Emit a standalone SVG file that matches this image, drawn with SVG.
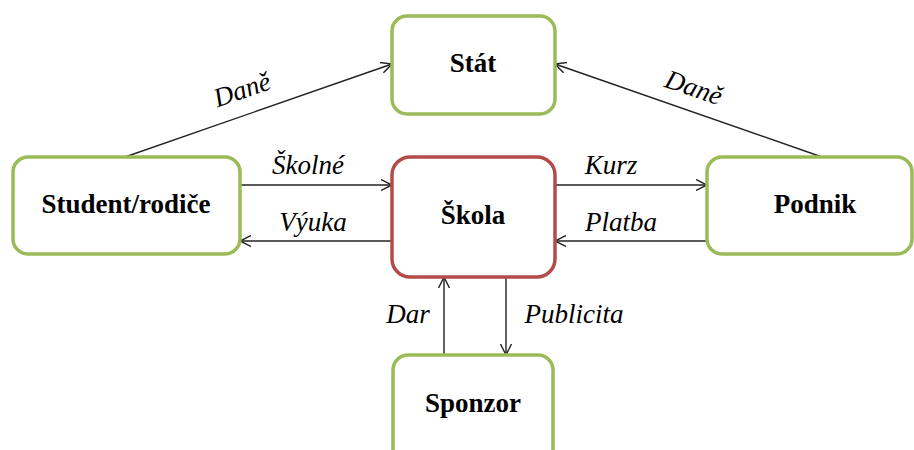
<svg xmlns="http://www.w3.org/2000/svg" width="914" height="450" viewBox="0 0 914 450">
  <style>
    .box { fill: #ffffff; stroke: #9bbb59; stroke-width: 3.5; }
    .center { fill: #ffffff; stroke: #b54a4a; stroke-width: 3.5; }
    .name { font-family: "Liberation Serif", "Times New Roman", serif; font-weight: bold; font-size: 27px; fill: #000; text-anchor: middle; }
    .flow { stroke: #222; stroke-width: 1.4; fill: none; marker-end: url(#open); }
    .lbl { font-family: "Liberation Serif", "Times New Roman", serif; font-style: italic; font-size: 27px; fill: #000; text-anchor: middle; }
  </style>
  <defs>
    <marker id="open" viewBox="0 0 12 12" refX="11" refY="6" markerWidth="12" markerHeight="12" markerUnits="userSpaceOnUse" orient="auto">
      <path d="M0,0.5 L11,6 L0,11.5" fill="none" stroke="#222" stroke-width="1.4"/>
    </marker>
  </defs>
  <rect width="914" height="450" fill="#ffffff"/>

  <g id="connectors">
    <line class="flow" x1="125" y1="157" x2="392" y2="64"/>
    <line class="flow" x1="822" y1="157" x2="555" y2="64"/>
    <line class="flow" x1="240" y1="185" x2="392" y2="185"/>
    <line class="flow" x1="392" y1="241" x2="240" y2="241"/>
    <line class="flow" x1="555" y1="185" x2="707" y2="185"/>
    <line class="flow" x1="707" y1="241" x2="555" y2="241"/>
    <line class="flow" x1="444" y1="355" x2="444" y2="277"/>
    <line class="flow" x1="506" y1="277" x2="506" y2="355"/>
    <text class="lbl" transform="translate(245,98) rotate(-19)">Daně</text>
    <text class="lbl" transform="translate(691,96) rotate(19)">Daně</text>
    <text class="lbl" x="308" y="174">Školné</text>
    <text class="lbl" x="313" y="231">Výuka</text>
    <text class="lbl" x="611" y="174">Kurz</text>
    <text class="lbl" x="621" y="231">Platba</text>
    <text class="lbl" x="408" y="323">Dar</text>
    <text class="lbl" x="574" y="323">Publicita</text>
  </g>

  <g id="stat">
    <rect class="box" x="392" y="16" width="163" height="98" rx="15"/>
    <text class="name" x="473" y="72">Stát</text>
  </g>
  <g id="student">
    <rect class="box" x="13" y="157" width="227" height="97" rx="15"/>
    <text class="name" x="126" y="213">Student/rodiče</text>
  </g>
  <g id="skola">
    <rect class="center" x="392" y="157" width="163" height="120" rx="18"/>
    <text class="name" x="473" y="224">Škola</text>
  </g>
  <g id="podnik">
    <rect class="box" x="707" y="157" width="205" height="97" rx="15"/>
    <text class="name" x="815" y="213">Podnik</text>
  </g>
  <g id="sponzor">
    <rect class="box" x="393" y="355" width="160" height="110" rx="15"/>
    <text class="name" x="473" y="412">Sponzor</text>
  </g>
</svg>
